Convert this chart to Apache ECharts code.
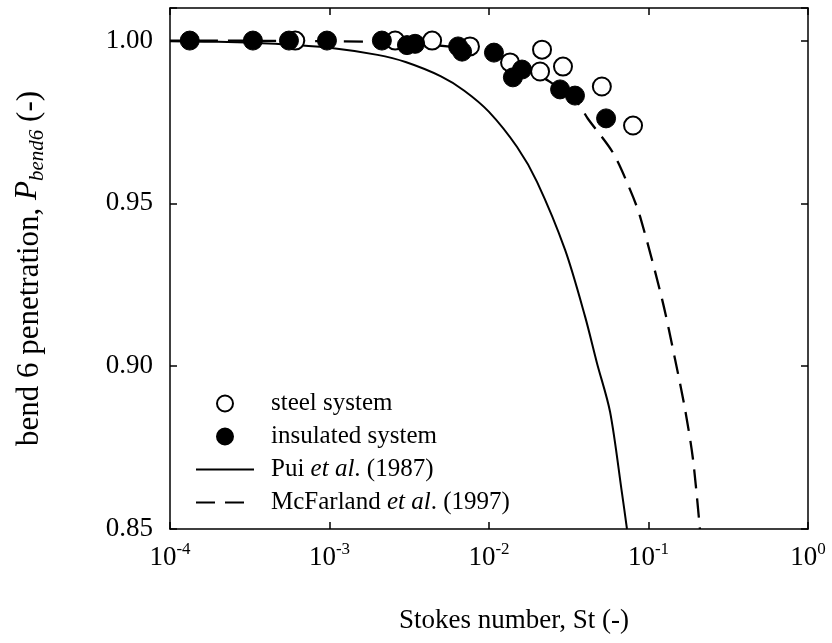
<!DOCTYPE html>
<html>
<head>
<meta charset="utf-8">
<script src="https://cdn.jsdelivr.net/npm/echarts@6/dist/echarts.min.js"></script>
<style>html,body{margin:0;padding:0;background:#fff}#c{width:832px;height:643px}</style>
</head>
<body>
<div id="c"></div>
<script>
// ---- data ----
const steelSt = [6.1e-4, 2.58e-3, 4.4e-3, 7.6e-3, 0.01355, 0.0215, 0.0209, 0.0291, 0.051, 0.08];
const steelP  = [1.000, 1.000, 1.000, 0.9982, 0.9933, 0.9972, 0.9905, 0.9920, 0.9859, 0.9739];
const insulSt = [1.33e-4, 3.31e-4, 5.57e-4, 9.64e-4, 2.13e-3, 3.06e-3, 3.44e-3, 6.4e-3, 6.78e-3, 0.01074, 0.01412, 0.0161, 0.0279, 0.0346, 0.0542];
const insulP  = [1.000, 1.000, 1.000, 1.000, 1.000, 0.9986, 0.9990, 0.9982, 0.9966, 0.9963, 0.9887, 0.9911, 0.9850, 0.9831, 0.9761];
const puiSt = [1e-4, 2e-4, 5e-4, 1e-3, 2e-3, 3e-3, 5e-3, 7e-3, 0.01, 0.015, 0.02, 0.03, 0.04, 0.0475, 0.0574, 0.0682, 0.0733];
const puiP  = [0.9998, 0.9996, 0.9989, 0.9978, 0.9956, 0.9934, 0.9890, 0.9846, 0.9781, 0.9673, 0.9566, 0.9357, 0.9153, 0.9010, 0.8860, 0.8610, 0.8500];
const mcfSt = [1e-4, 1e-3, 3e-3, 6e-3, 0.01, 0.015, 0.02, 0.024, 0.0357, 0.0417, 0.0598, 0.0765, 0.0885, 0.1216, 0.1466, 0.1694, 0.19, 0.21];
const mcfP  = [1.000, 0.9998, 0.9993, 0.9980, 0.9965, 0.9930, 0.9895, 0.9874, 0.9810, 0.9760, 0.9656, 0.9543, 0.9460, 0.9206, 0.9022, 0.8868, 0.8715, 0.8500];
const yTicks = [0.85, 0.90, 0.95, 1.00];

const pair = (a, b) => a.map((v, i) => [v, b[i]]);
const FONT = '"Liberation Serif", "Times New Roman", serif';

const chart = echarts.init(document.getElementById('c'));
chart.setOption({
  animation: false,
  backgroundColor: '#fff',
  textStyle: { fontFamily: FONT, color: '#000' },
  grid: { left: 170, right: 24, top: 8, bottom: 114, containLabel: false },
  legend: {
    orient: 'vertical',
    left: 190, top: 385,
    itemWidth: 58, itemHeight: 16, itemGap: 6,
    textStyle: {
      fontFamily: FONT, fontSize: 25, color: '#000', padding: [0, 0, 0, 12], lineHeight: 27,
      rich: { i: { fontFamily: FONT, fontSize: 25, fontStyle: 'italic', color: '#000', lineHeight: 27 } }
    },
    formatter: function (n) {
      if (n === 'Pui et al. (1987)') return 'Pui {i|et al}. (1987)';
      if (n === 'McFarland et al. (1997)') return 'McFarland {i|et al}. (1997)';
      return n;
    },
    data: [
      { name: 'steel system' },
      { name: 'insulated system' },
      { name: 'Pui et al. (1987)', itemStyle: { opacity: 0 } },
      { name: 'McFarland et al. (1997)', itemStyle: { opacity: 0 } }
    ]
  },
  xAxis: [{
    type: 'log', logBase: 10, min: 1e-4, max: 1,
    position: 'bottom',
    name: 'Stokes number, St (-)', nameLocation: 'middle', nameGap: 78,
    nameTextStyle: { fontFamily: FONT, fontSize: 27, color: '#000', padding: [0, 0, 0, 50] },
    axisLine: { lineStyle: { color: '#000', width: 1.5 } },
    axisTick: { inside: true, length: 7, lineStyle: { color: '#000', width: 1.5 } },
    minorTick: { show: false },
    splitLine: { show: false },
    axisLabel: {
      margin: 12, color: '#000', fontFamily: FONT, fontSize: 27,
      formatter: function (v) {
        const e = Math.round(Math.log10(v));
        return '{b|10}{s|' + e + '}';
      },
      rich: {
        b: { fontFamily: FONT, fontSize: 27, color: '#000', lineHeight: 30, verticalAlign: 'bottom' },
        s: { fontFamily: FONT, fontSize: 17, color: '#000', lineHeight: 15, verticalAlign: 'top' }
      }
    }
  }, {
    type: 'log', logBase: 10, min: 1e-4, max: 1, position: 'top',
    axisLine: { show: true, lineStyle: { color: '#000', width: 1.5 } },
    axisTick: { inside: true, length: 7, lineStyle: { color: '#000', width: 1.5 } },
    axisLabel: { show: false }, splitLine: { show: false }
  }],
  yAxis: [{
    type: 'value', min: 0.85, max: 1.01, interval: 0.05,
    name: 'bend 6 penetration, {i|P}{sub|bend6} (-)', nameLocation: 'middle', nameGap: 140, nameRotate: 90,
    nameTextStyle: {
      fontFamily: FONT, fontSize: 31, color: '#000', lineHeight: 36, verticalAlign: 'middle',
      rich: {
        i: { fontFamily: FONT, fontSize: 31, fontStyle: 'italic', color: '#000', lineHeight: 36, verticalAlign: 'top' },
        sub: { fontFamily: FONT, fontSize: 21, fontStyle: 'italic', color: '#000', lineHeight: 21, verticalAlign: 'bottom' }
      }
    },
    axisLine: { show: true, lineStyle: { color: '#000', width: 1.5 } },
    axisTick: { inside: true, length: 7, lineStyle: { color: '#000', width: 1.5 } },
    splitLine: { show: false },
    axisLabel: {
      margin: 17, color: '#000', fontFamily: FONT, fontSize: 27,
      formatter: function (v) {
        const hit = yTicks.find(t => Math.abs(t - v) < 1e-6);
        return hit === undefined ? '' : hit.toFixed(2);
      }
    }
  }, {
    type: 'value', min: 0.85, max: 1.01, interval: 0.05, position: 'right',
    axisLine: { show: true, lineStyle: { color: '#000', width: 1.5 } },
    axisTick: { inside: true, length: 7, lineStyle: { color: '#000', width: 1.5 } },
    axisLabel: { show: false }, splitLine: { show: false }
  }],
  series: [
    {
      name: 'Pui et al. (1987)', type: 'line', data: pair(puiSt, puiP), xAxisIndex: 0, yAxisIndex: 0,
      showSymbol: false, smooth: 0.3, z: 2,
      lineStyle: { color: '#000', width: 2 }, itemStyle: { color: '#000' }
    },
    {
      name: 'McFarland et al. (1997)', type: 'line', data: pair(mcfSt, mcfP), xAxisIndex: 0, yAxisIndex: 0,
      showSymbol: false, smooth: 0.3, z: 2,
      lineStyle: { color: '#000', width: 2.3, type: [19, 10] }, itemStyle: { color: '#000' }
    },
    {
      name: 'steel system', type: 'scatter', data: pair(steelSt, steelP), xAxisIndex: 0, yAxisIndex: 0,
      symbol: 'circle', symbolSize: 18, z: 3,
      itemStyle: { color: '#fff', borderColor: '#000', borderWidth: 2, opacity: 1 }
    },
    {
      name: 'insulated system', type: 'scatter', data: pair(insulSt, insulP), xAxisIndex: 0, yAxisIndex: 0,
      symbol: 'circle', symbolSize: 19, z: 4,
      itemStyle: { color: '#000', borderColor: '#000', borderWidth: 1, opacity: 1 }
    }
  ]
});
</script>
</body>
</html>
